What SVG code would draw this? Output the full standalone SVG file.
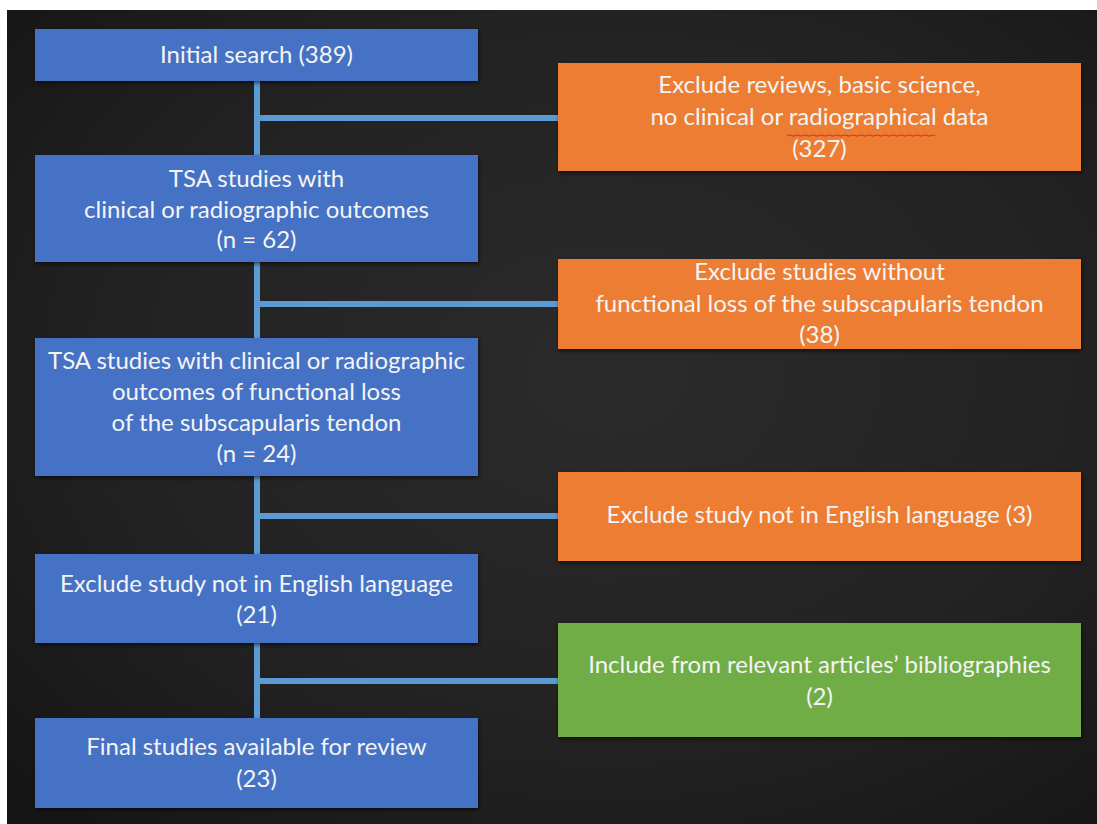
<svg xmlns="http://www.w3.org/2000/svg" width="1097" height="824" viewBox="0 0 1097 824">
  <defs>
    <radialGradient id="bg" cx="0.55" cy="0.45" r="0.75">
      <stop offset="0" stop-color="#2b2b2b"/>
      <stop offset="0.6" stop-color="#222222"/>
      <stop offset="1" stop-color="#151515"/>
    </radialGradient>
    <filter id="sh" x="-5%" y="-10%" width="110%" height="125%">
      <feDropShadow dx="1" dy="2" stdDeviation="2" flood-color="#000" flood-opacity="0.6"/>
    </filter>
    <style>
      .blue { fill: #4472c4; filter: url(#sh); }
      .orange { fill: #ed7d31; filter: url(#sh); }
      .green { fill: #70ad47; filter: url(#sh); }
      .t { font-family: Lato, "Liberation Sans", sans-serif; font-size: 24px; fill: #f4f4f4; text-anchor: middle; }
      .conn { stroke: #5b9bd5; stroke-width: 6; fill: none; }
    </style>
  </defs>
  <rect x="0" y="0" width="1097" height="824" fill="#ffffff"/>
  <rect x="7" y="10" width="1090" height="814" fill="url(#bg)"/>

  <g id="connectors">
    <line class="conn" x1="257" y1="81" x2="257" y2="155"/>
    <line class="conn" x1="257" y1="262" x2="257" y2="338"/>
    <line class="conn" x1="257" y1="476" x2="257" y2="554"/>
    <line class="conn" x1="257" y1="643" x2="257" y2="718"/>
    <line class="conn" x1="257" y1="118" x2="558" y2="118"/>
    <line class="conn" x1="257" y1="304" x2="558" y2="304"/>
    <line class="conn" x1="257" y1="516" x2="558" y2="516"/>
    <line class="conn" x1="257" y1="681" x2="558" y2="681"/>
  </g>

  <g id="initial">
    <rect class="blue" x="35" y="29" width="443" height="52"/>
    <text class="t" x="256.5" y="63">Initial search (389)</text>
  </g>
  <g id="tsa62">
    <rect class="blue" x="35" y="155" width="443" height="107"/>
    <text class="t" x="256.5" y="187">TSA studies with</text>
    <text class="t" x="256.5" y="218">clinical or radiographic outcomes</text>
    <text class="t" x="256.5" y="248">(n = 62)</text>
  </g>
  <g id="tsa24">
    <rect class="blue" x="35" y="338" width="443" height="138"/>
    <text class="t" x="256.5" y="369">TSA studies with clinical or radiographic</text>
    <text class="t" x="256.5" y="400">outcomes of functional loss</text>
    <text class="t" x="256.5" y="431">of the subscapularis tendon</text>
    <text class="t" x="256.5" y="462">(n = 24)</text>
  </g>
  <g id="english21">
    <rect class="blue" x="35" y="554" width="443" height="89"/>
    <text class="t" x="256.5" y="592">Exclude study not in English language</text>
    <text class="t" x="256.5" y="623">(21)</text>
  </g>
  <g id="final23">
    <rect class="blue" x="35" y="718" width="443" height="90"/>
    <text class="t" x="256.5" y="755">Final studies available for review</text>
    <text class="t" x="256.5" y="787">(23)</text>
  </g>

  <g id="excl327">
    <rect class="orange" x="558" y="63" width="523" height="108"/>
    <text class="t" x="819.5" y="93">Exclude reviews, basic science,</text>
    <text class="t" x="819.5" y="125">no clinical or radiographical data</text>
    <text class="t" x="819.5" y="157">(327)</text>
    <path d="M787 135.5 q2 -1 4 0 t4 0 t4 0 t4 0 t4 0 t4 0 t4 0 t4 0 t4 0 t4 0 t4 0 t4 0 t4 0 t4 0 t4 0 t4 0 t4 0 t4 0 t4 0 t4 0 t4 0 t4 0 t4 0 t4 0 t4 0 t4 0 t4 0 t4 0 t4 0 t4 0 t4 0 t4 0 t4 0 t4 0 t4 0 t4 0 t4 0" stroke="#e0302a" stroke-width="1.2" fill="none"/>
  </g>
  <g id="excl38">
    <rect class="orange" x="558" y="259" width="523" height="90"/>
    <text class="t" x="819.5" y="280">Exclude studies without</text>
    <text class="t" x="819.5" y="312">functional loss of the subscapularis tendon</text>
    <text class="t" x="819.5" y="343">(38)</text>
  </g>
  <g id="excl3">
    <rect class="orange" x="558" y="472" width="523" height="89"/>
    <text class="t" x="819.5" y="523">Exclude study not in English language (3)</text>
  </g>
  <g id="incl2">
    <rect class="green" x="558" y="623" width="523" height="114"/>
    <text class="t" x="819.5" y="673">Include from relevant articles’ bibliographies</text>
    <text class="t" x="819.5" y="705">(2)</text>
  </g>
</svg>
